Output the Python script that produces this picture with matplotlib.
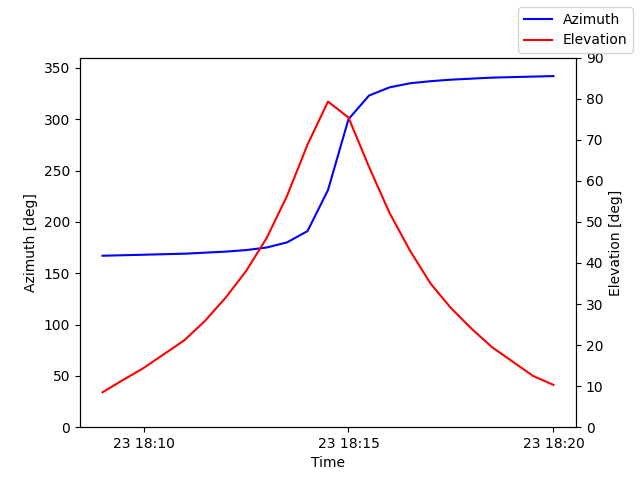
import numpy as np
import pandas as pd
import matplotlib
matplotlib.use("Agg")
import matplotlib.pyplot as plt
import matplotlib.dates as mdates

times = pd.date_range("2024-01-23 18:09:00", "2024-01-23 18:20:00", freq="30s")
azimuth = [167, 167.5, 168, 168.5, 169, 170, 171, 172.5, 175, 180, 191, 231, 300,
           323, 331, 335, 337, 338.5, 339.5, 340.5, 341, 341.5, 342]
elevation = [8.5, 11.5, 14.4, 17.8, 21.2, 25.9, 31.5, 38, 46, 56.3, 68.8, 79.3, 75.4,
             63.4, 52.2, 43, 35, 29, 24, 19.5, 16, 12.5, 10.3]

fig, ax1 = plt.subplots(figsize=(6.4, 4.8))
ax1.plot(times, azimuth, color="blue", label="Azimuth")
ax1.set_ylim(0, 360)
ax1.set_ylabel("Azimuth [deg]")
ax1.set_xlabel("Time")

ax2 = ax1.twinx()
ax2.plot(times, elevation, color="red", label="Elevation")
ax2.set_ylim(0, 90)
ax2.set_ylabel("Elevation [deg]")

ax1.xaxis.set_major_locator(mdates.MinuteLocator(byminute=[10, 15, 20]))
ax1.xaxis.set_major_formatter(mdates.DateFormatter("%d %H:%M"))

fig.legend(loc="upper right")
plt.savefig("out.png", dpi=100)
